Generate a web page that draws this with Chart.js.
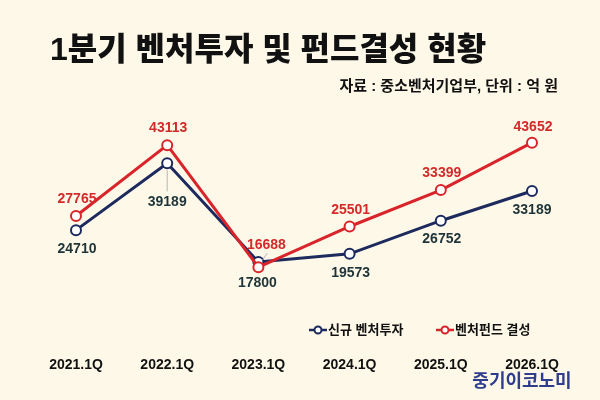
<!DOCTYPE html>
<html>
<head>
<meta charset="utf-8">
<script src="https://cdn.jsdelivr.net/npm/chart.js@4/dist/chart.umd.min.js"></script>
<style>
    html, body { margin: 0; padding: 0; background: #fdf8e8; }
    #wrap { width: 600px; height: 400px; }
</style>
</head>
<body>
<div id="wrap"><canvas id="chart"></canvas></div>
<script>
// Chart data
const categories = ['2021.1Q', '2022.1Q', '2023.1Q', '2024.1Q', '2025.1Q', '2026.1Q'];
const ventureInvest = [24710, 39189, 17800, 19573, 26752, 33189];
const fundRaised = [27765, 43113, 16688, 25501, 33399, 43652];
const seriesNames = ['신규 벤처투자', '벤처펀드 결성'];
const titleText = '1분기 벤처투자 및 펀드결성 현황';
const sourceText = '자료 : 중소벤처기업부, 단위 : 억 원';
const brandText = '중기이코노미';

const FONT = '"Liberation Sans", "Noto Sans CJK KR", Arial, sans-serif';
const NAVY = '#1c2a5e';
const RED = '#d8242a';

// where each value label sits relative to its point
const investLabelOffsets = [[1, 19], [0, 39], [-1, 21], [1, 19], [1, 18], [0, 19]];
const fundLabelOffsets = [[1, -17], [1, -17], [8, -22], [1, -16], [1, -17], [1, -16]];

const valueLabels = {
    id: 'valueLabels',
    afterDatasetsDraw(chart) {
        const ctx = chart.ctx;
        ctx.save();

        // leader lines for the crowded labels
        ctx.strokeStyle = '#b5b5b5';
        ctx.lineWidth = 1;
        const inv = chart.getDatasetMeta(1).data;
        const fund = chart.getDatasetMeta(0).data;
        ctx.beginPath();
        ctx.moveTo(inv[1].x, inv[1].y + 7);
        ctx.lineTo(inv[1].x, inv[1].y + 28);
        ctx.moveTo(fund[2].x + 4, fund[2].y - 7);
        ctx.lineTo(fund[2].x + 9, fund[2].y - 14);
        ctx.stroke();

        ctx.font = 'bold 14px ' + FONT;
        ctx.textAlign = 'center';
        ctx.textBaseline = 'middle';
        chart.data.datasets.forEach((ds, i) => {
            const meta = chart.getDatasetMeta(i);
            meta.data.forEach((pt, j) => {
                const off = ds.labelOffsets[j];
                ctx.fillStyle = ds.labelColor;
                ctx.fillText(String(ds.data[j]), pt.x + off[0], pt.y + off[1]);
            });
        });
        ctx.restore();
    },
    afterDraw(chart) {
        const ctx = chart.ctx;
        ctx.save();

        // legend
        const items = [
            { x: 309, color: NAVY, text: seriesNames[0] },
            { x: 436, color: RED, text: seriesNames[1] }
        ];
        const y = 330;
        ctx.font = 'bold 13px ' + FONT;
        ctx.textBaseline = 'middle';
        ctx.textAlign = 'left';
        items.forEach(it => {
            ctx.strokeStyle = it.color;
            ctx.lineWidth = 2.5;
            ctx.beginPath();
            ctx.moveTo(it.x, y);
            ctx.lineTo(it.x + 18, y);
            ctx.stroke();
            ctx.beginPath();
            ctx.arc(it.x + 9, y, 3.5, 0, Math.PI * 2);
            ctx.fillStyle = '#fff';
            ctx.fill();
            ctx.lineWidth = 2;
            ctx.stroke();
            ctx.fillStyle = '#111';
            ctx.fillText(it.text, it.x + 19, y);
        });

        // brand mark
        ctx.font = 'bold 18px ' + FONT;
        ctx.fillStyle = '#2e3d8c';
        ctx.textAlign = 'center';
        ctx.fillText(brandText, 522, 382);
        ctx.restore();
    }
};

const ctx = document.getElementById('chart').getContext('2d');
new Chart(ctx, {
    type: 'line',
    data: {
        labels: categories,
        datasets: [
            {
                label: seriesNames[1],
                data: fundRaised,
                borderColor: RED,
                backgroundColor: '#fff',
                borderWidth: 3,
                pointRadius: 5,
                pointBorderWidth: 2,
                pointBackgroundColor: '#fff',
                pointBorderColor: RED,
                tension: 0,
                order: 0,
                labelColor: '#d42a2a',
                labelOffsets: fundLabelOffsets
            },
            {
                label: seriesNames[0],
                data: ventureInvest,
                borderColor: NAVY,
                backgroundColor: '#fff',
                borderWidth: 3,
                pointRadius: 5,
                pointBorderWidth: 2,
                pointBackgroundColor: '#fff',
                pointBorderColor: NAVY,
                tension: 0,
                order: 1,
                labelColor: '#1e3438',
                labelOffsets: investLabelOffsets
            }
        ]
    },
    options: {
        responsive: true,
        maintainAspectRatio: false,
        animation: false,
        events: [],
        layout: { padding: { left: 50, right: 42, top: 0, bottom: 13 } },
        plugins: {
            legend: { display: false },
            tooltip: { enabled: false },
            title: {
                display: true,
                text: titleText,
                align: 'start',
                color: '#111',
                font: { family: FONT, size: 32, weight: '900' },
                padding: { top: 32, bottom: 0 }
            },
            subtitle: {
                display: true,
                text: sourceText,
                align: 'end',
                color: '#111',
                font: { family: FONT, size: 15, weight: 'bold' },
                padding: { top: 7, bottom: 18 }
            }
        },
        scales: {
            x: {
                offset: false,
                grid: { display: false, drawTicks: false },
                border: { display: false },
                ticks: {
                    color: '#111',
                    padding: 13,
                    maxRotation: 0,
                    font: { family: FONT, size: 14, weight: 'bold' }
                }
            },
            y: {
                min: 0,
                max: 50000,
                grid: { display: false, drawTicks: false },
                border: { display: false },
                ticks: { display: false },
                afterFit(scale) { scale.width = 26; }
            },
            y2: {
                position: 'right',
                min: 0,
                max: 50000,
                grid: { display: false, drawTicks: false },
                border: { display: false },
                ticks: { display: false },
                afterFit(scale) { scale.width = 26; }
            }
        }
    },
    plugins: [valueLabels]
});
</script>
</body>
</html>
